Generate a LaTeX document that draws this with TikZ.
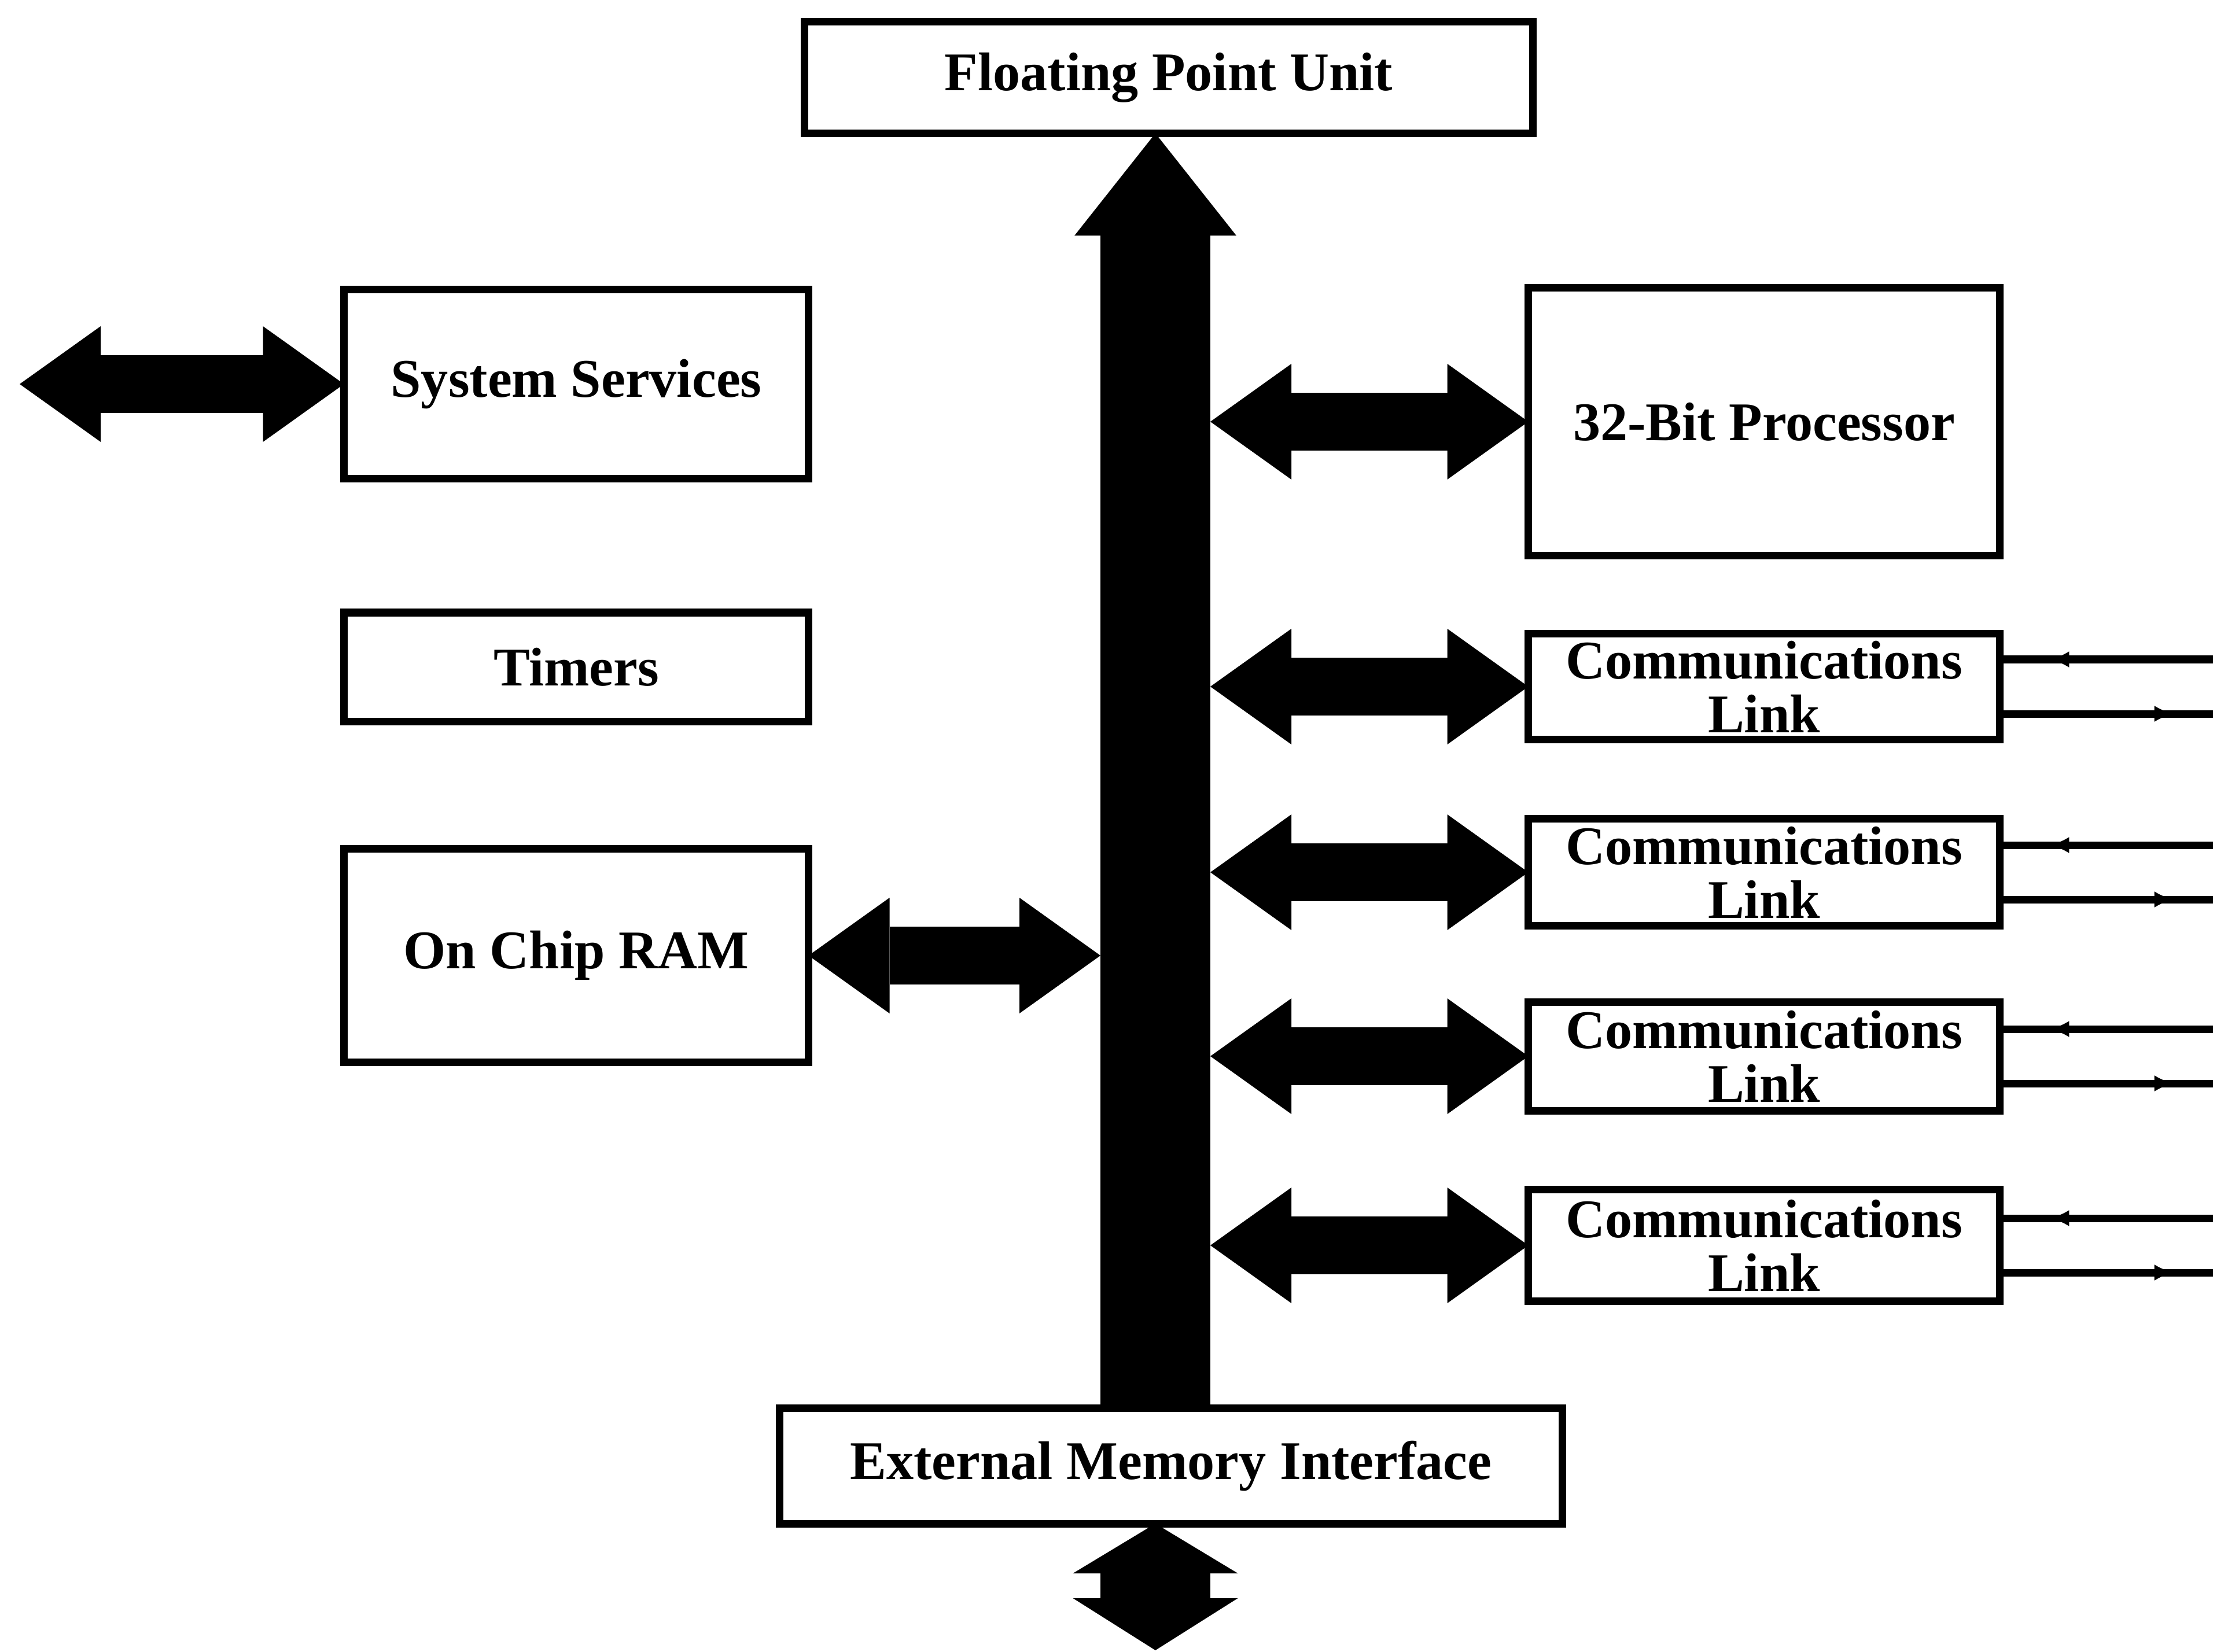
\documentclass[tikz,border=0pt]{standalone}
\usepackage{fontspec}
\setmainfont{Liberation Serif}
\usetikzlibrary{arrows.meta,decorations.markings}

\begin{document}
\begin{tikzpicture}[
    box/.style={draw, line width=3.7pt, inner sep=0pt, outer sep=0pt, align=center,
        font=\bfseries\fontsize{26.8}{26.5}\selectfont},
    dblarrow/.style={line width=10mm, {Triangle[length=14mm, width=20mm, line width=0pt]}-{Triangle[length=14mm, width=20mm, line width=0pt]}},
    linkline/.style={line width=3.7pt},
    linkin/.style={linkline, postaction={decorate}, decoration={markings,
        mark=at position 0.23 with {\arrowreversed{Latex[length=3.5mm, width=2.8mm]}}}},
    linkout/.style={linkline, postaction={decorate}, decoration={markings,
        mark=at position 0.82 with {\arrow{Latex[length=3.5mm, width=2.8mm]}}}}
]
    \useasboundingbox (0,0) rectangle (38.25,-28.56);

    % Blocks on the left
    \node[box, minimum width=8.03cm, minimum height=3.27cm] (sys) at (9.96,-6.64) {System Services};
    \node[box, minimum width=8.03cm, minimum height=1.88cm] (timers) at (9.96,-11.53) {Timers};
    \node[box, minimum width=8.03cm, minimum height=3.69cm] (ram) at (9.96,-16.52) {On Chip RAM};

    % Top and bottom
    \node[box, minimum width=12.59cm, minimum height=1.93cm] (fpu) at (20.20,-1.34) {Floating Point Unit};
    \node[box, minimum width=13.53cm, minimum height=2.00cm] (emi) at (20.24,-25.34) {External Memory Interface};

    % Blocks on the right
    \node[box, minimum width=8.15cm, minimum height=4.63cm] (proc) at (30.49,-7.29) {32-Bit Processor};
    \node[box, minimum width=8.15cm, minimum height=1.83cm] (link1) at (30.49,-11.87) {Communications\\Link};
    \node[box, minimum width=8.15cm, minimum height=1.85cm] (link2) at (30.49,-15.08) {Communications\\Link};
    \node[box, minimum width=8.15cm, minimum height=1.88cm] (link3) at (30.49,-18.26) {Communications\\Link};
    \node[box, minimum width=8.15cm, minimum height=1.93cm] (link4) at (30.49,-21.53) {Communications\\Link};

    % Bus
    \coordinate (busx) at (19.97,0);
    \coordinate (busL) at (19.02,0);
    \coordinate (busR) at (20.92,0);
    \coordinate (sysend) at (0.34,-6.64);
    \coordinate (bottom) at (19.97,-28.53);
    \coordinate (rim) at (38.25,0);
    \draw[line width=19mm, -{Triangle[length=17.7mm, width=28mm, line width=0pt]}] (emi.north -| busx) -- (fpu.south -| busx);
    \draw[line width=19mm, {Triangle[length=8.6mm, width=28.5mm, line width=0pt]}-{Triangle[length=9mm, width=28.5mm, line width=0pt]}] (emi.south -| busx) -- (bottom);

    % Double arrows
    \draw[dblarrow] (sysend) -- (sys.west);
    \draw[dblarrow] (ram.east) -- (busL |- ram.east);
    \draw[dblarrow] (busR |- proc.west) -- (proc.west);
    \foreach \n in {1,...,4}
        \draw[dblarrow] (busR |- link\n.west) -- (link\n.west);

    % Serial lines
    \foreach \n in {1,...,4} {
        \draw[linkin] ([yshift=4.7mm]link\n.east) -- ([yshift=4.7mm]link\n.east -| rim);
        \draw[linkout] ([yshift=-4.7mm]link\n.east) -- ([yshift=-4.7mm]link\n.east -| rim);
    }
\end{tikzpicture}
\end{document}
